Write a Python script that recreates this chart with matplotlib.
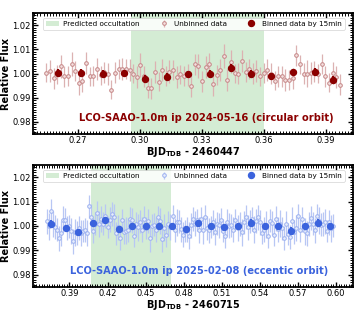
import matplotlib
matplotlib.use("Agg")
import matplotlib.pyplot as plt
from matplotlib.ticker import MultipleLocator, FormatStrFormatter

# ---------------- Top panel data (2024-05-16) ----------------
top_time = [0.2548, 0.2566, 0.2583, 0.2601, 0.2618, 0.2636, 0.2653, 0.2671, 0.2688, 0.2706,
            0.2723, 0.2741, 0.2758, 0.2776, 0.2793, 0.2811, 0.2828, 0.2846, 0.2863, 0.2881,
            0.2898, 0.2916, 0.2933, 0.2951, 0.2968, 0.2986, 0.3003, 0.3021, 0.3038, 0.3056,
            0.3073, 0.3091, 0.3108, 0.3126, 0.3143, 0.3161, 0.3178, 0.3196, 0.3213, 0.3231,
            0.3248, 0.3266, 0.3283, 0.3301, 0.3318, 0.3336, 0.3353, 0.3371, 0.3388, 0.3406,
            0.3423, 0.3441, 0.3458, 0.3476, 0.3493, 0.3511, 0.3528, 0.3546, 0.3563, 0.3581,
            0.3598, 0.3616, 0.3633, 0.3651, 0.3668, 0.3686, 0.3703, 0.3721, 0.3738, 0.3756,
            0.3773, 0.3791, 0.3808, 0.3826, 0.3843, 0.3861, 0.3878, 0.3896, 0.3913, 0.3931,
            0.3948, 0.3966]
top_flux = [1.0004, 1.0010, 0.9980, 0.9997, 1.0029, 0.9989, 0.9989, 1.0038, 1.0011, 0.9959,
            0.9970, 1.0045, 0.9988, 0.9990, 1.0020, 0.9992, 1.0005, 0.9997, 0.9933, 1.0004,
            1.0019, 1.0020, 1.0018, 1.0015, 0.9999, 0.9985, 1.0035, 0.9988, 0.9939, 0.9939,
            1.0007, 0.9966, 1.0014, 0.9990, 1.0007, 1.0014, 0.9986,
            0.9997, 0.9990, 0.9995, 0.9950, 1.0038, 1.0030, 0.9967, 1.0027, 1.0038, 0.9956,
            0.9993, 1.0015, 1.0071, 0.9973, 1.0049, 1.0001, 1.0000, 1.0052, 1.0007, 1.0018,
            1.0001, 1.0011, 0.9988, 1.0001, 1.0016, 1.0000, 0.9970, 0.9988, 0.9988, 0.9973,
            0.9973, 0.9980, 1.0075, 1.0038, 1.0000, 1.0000, 1.0001, 1.0008, 0.9999, 1.0039,
            0.9989, 0.9962, 1.0001, 0.9986, 0.9954]
top_err = [0.0040, 0.0045, 0.0042, 0.0040, 0.0048, 0.0044, 0.0040, 0.0050, 0.0042, 0.0046,
           0.0045, 0.0045, 0.0038, 0.0042, 0.0046, 0.0040, 0.0044, 0.0045, 0.0040, 0.0042,
           0.0040, 0.0046, 0.0042, 0.0044, 0.0040, 0.0045, 0.0048, 0.0042, 0.0040, 0.0044,
           0.0046, 0.0040, 0.0045, 0.0042, 0.0048, 0.0040, 0.0044,
           0.0040, 0.0042, 0.0045, 0.0046, 0.0044, 0.0050, 0.0042, 0.0045, 0.0048, 0.0050,
           0.0042, 0.0046, 0.0050, 0.0044, 0.0048, 0.0040, 0.0045, 0.0046, 0.0042, 0.0040,
           0.0044, 0.0046, 0.0040, 0.0042, 0.0045, 0.0044, 0.0040, 0.0042, 0.0045, 0.0046,
           0.0040, 0.0044, 0.0042, 0.0040, 0.0042, 0.0055, 0.0046, 0.0044, 0.0040, 0.0042,
           0.0044, 0.0040, 0.0046, 0.0045, 0.0042]
top_bin_time = [0.2603, 0.2716, 0.2821, 0.2924, 0.3027, 0.3129, 0.3234,
                0.3338, 0.3442, 0.3539, 0.3632, 0.3741, 0.3846, 0.3931]
top_bin_flux = [1.0003, 1.0002, 1.0000, 1.0002, 0.9978, 0.9987, 0.9996,
                1.0000, 1.0024, 0.9999, 0.9989, 1.0006, 1.0006, 0.9973]
top_bin_err = [0.0015, 0.0015, 0.0014, 0.0014, 0.0015, 0.0014, 0.0015,
               0.0015, 0.0016, 0.0015, 0.0015, 0.0014, 0.0015, 0.0015]
top_occ = (0.2956, 0.3600)
top_xlim = (0.2484, 0.4030)
top_offset = "2460447"
top_label = "LCO-SAAO-1.0m ip 2024-05-16 (circular orbit)"

# ---------------- Bottom panel data (2025-02-08) ----------------
bot_time = [0.3720, 0.3736, 0.3752, 0.3768, 0.3784, 0.3800, 0.3816, 0.3832, 0.3848, 0.3864,
            0.3880, 0.3896, 0.3912, 0.3928, 0.3944, 0.3960, 0.3976, 0.3992, 0.4008, 0.4024,
            0.4040, 0.4056, 0.4072, 0.4088, 0.4104, 0.4120, 0.4136, 0.4152, 0.4168, 0.4184,
            0.4200, 0.4216, 0.4232, 0.4248, 0.4264, 0.4280, 0.4296, 0.4312, 0.4328, 0.4344,
            0.4360, 0.4376, 0.4392, 0.4408, 0.4424, 0.4440, 0.4456, 0.4472, 0.4488, 0.4504,
            0.4520, 0.4536, 0.4552, 0.4568, 0.4584, 0.4600, 0.4616, 0.4632, 0.4648, 0.4664,
            0.4680, 0.4696, 0.4712, 0.4728, 0.4744, 0.4760, 0.4776, 0.4792, 0.4808, 0.4824,
            0.4840, 0.4856, 0.4872, 0.4888, 0.4904, 0.4920, 0.4936, 0.4952, 0.4968, 0.4984,
            0.5000, 0.5016, 0.5032, 0.5048, 0.5064, 0.5080, 0.5096, 0.5112, 0.5128, 0.5144,
            0.5160, 0.5176, 0.5192, 0.5208, 0.5224, 0.5240, 0.5256, 0.5272, 0.5288, 0.5304,
            0.5320, 0.5336, 0.5352, 0.5368, 0.5384, 0.5400, 0.5416, 0.5432, 0.5448, 0.5464,
            0.5480, 0.5496, 0.5512, 0.5528, 0.5544, 0.5560, 0.5576, 0.5592, 0.5608, 0.5624,
            0.5640, 0.5656, 0.5672, 0.5688, 0.5704, 0.5720, 0.5736, 0.5752, 0.5768, 0.5784,
            0.5800, 0.5816, 0.5832, 0.5848, 0.5864, 0.5880, 0.5896, 0.5912, 0.5928, 0.5944,
            0.5960, 0.5976]
bot_flux = [1.0019, 0.9998, 1.0061, 1.0008, 0.9995, 0.9985,
            0.9950, 0.9970, 1.0025, 1.0026, 0.9992, 0.9998, 0.9979,
            0.9937, 0.9975, 0.9971, 0.9993, 0.9971, 0.9980, 0.9984,
            0.9971, 1.0080, 1.0037, 0.9981, 1.0010, 1.0053, 1.0008,
            1.0029, 1.0010, 1.0040, 0.9995, 1.0026, 1.0050,
            1.0035, 0.9970, 0.9994, 0.9952, 1.0024, 0.9977, 0.9980,
            0.9983, 1.0027, 1.0023, 0.9960, 1.0008, 0.9995,
            1.0018, 0.9985, 1.0030, 0.9992, 1.0020, 0.9949, 0.9999,
            1.0005, 0.9985, 1.0035, 1.0020, 0.9945, 0.9993,
            0.9962, 1.0010, 0.9996, 1.0040, 0.9984, 1.0015,
            1.0018, 0.9986, 0.9965, 0.9980, 0.9985, 0.9960, 1.0003,
            1.0028, 1.0010, 1.0025, 0.9984, 1.0029, 0.9983,
            1.0038, 0.9991, 0.9982, 0.9995, 1.0015, 0.9976, 1.0010,
            1.0003, 1.0025, 0.9981, 0.9960, 1.0016, 1.0001,
            1.0003, 0.9985, 1.0025, 0.9992, 1.0007, 0.9975, 1.0015,
            1.0036, 0.9995, 1.0019, 1.0029, 0.9984, 1.0021,
            1.0035, 1.0015, 0.9971, 0.9985, 1.0005, 0.9960, 1.0022,
            1.0012, 0.9965, 1.0030, 0.9986, 1.0009, 0.9990,
            0.9950, 1.0010, 0.9967, 0.9955, 1.0022, 0.9975, 0.9992,
            1.0040, 0.9982, 1.0027, 0.9979, 0.9970, 1.0009,
            1.0032, 1.0010, 0.9982, 1.0040, 1.0022, 1.0005, 1.0008,
            1.0018, 0.9980, 1.0015, 0.9991, 1.0002]
bot_err = [0.0050, 0.0055, 0.0048, 0.0052, 0.0050, 0.0046, 0.0052, 0.0050, 0.0055, 0.0048,
           0.0050, 0.0046, 0.0052, 0.0050, 0.0055, 0.0048, 0.0050, 0.0052, 0.0046, 0.0050,
           0.0055, 0.0048, 0.0052, 0.0050, 0.0046, 0.0050, 0.0055, 0.0052, 0.0048, 0.0050,
           0.0046, 0.0052, 0.0050, 0.0055, 0.0048, 0.0050, 0.0052, 0.0046, 0.0050, 0.0055,
           0.0048, 0.0050, 0.0052, 0.0046, 0.0050, 0.0055, 0.0048, 0.0052, 0.0050, 0.0046,
           0.0050, 0.0055, 0.0052, 0.0048, 0.0050, 0.0046, 0.0052, 0.0050, 0.0055, 0.0048,
           0.0050, 0.0052, 0.0046, 0.0050, 0.0055, 0.0048, 0.0052, 0.0050, 0.0046, 0.0050,
           0.0055, 0.0052, 0.0048, 0.0050, 0.0046, 0.0052, 0.0050, 0.0055, 0.0048, 0.0050,
           0.0052, 0.0046, 0.0050, 0.0055, 0.0048, 0.0052, 0.0050, 0.0046, 0.0050, 0.0055,
           0.0052, 0.0048, 0.0050, 0.0046, 0.0052, 0.0050, 0.0055, 0.0048, 0.0050, 0.0052,
           0.0046, 0.0050, 0.0055, 0.0048, 0.0052, 0.0050, 0.0046, 0.0050, 0.0055, 0.0052,
           0.0048, 0.0050, 0.0046, 0.0052, 0.0050, 0.0055, 0.0048, 0.0050, 0.0052, 0.0046,
           0.0050, 0.0055, 0.0048, 0.0052, 0.0050, 0.0046, 0.0050, 0.0055, 0.0052, 0.0048,
           0.0050, 0.0046, 0.0052, 0.0050, 0.0055, 0.0048, 0.0050, 0.0052, 0.0046, 0.0050,
           0.0055, 0.0048]
bot_bin_time = [0.3758, 0.3871, 0.3970, 0.4084, 0.4184, 0.4293, 0.4394, 0.4502, 0.4608, 0.4711, 0.4820,
                0.4916, 0.5016, 0.5117, 0.5226, 0.5334, 0.5437, 0.5541, 0.5647, 0.5753, 0.5856, 0.5949]
bot_bin_flux = [1.0010, 0.9993, 0.9975, 1.0011, 1.0025, 0.9988, 1.0000, 0.9999, 0.9999, 0.9999, 0.9986,
                1.0011, 1.0001, 0.9996, 1.0001, 1.0014, 0.9999, 0.9999, 0.9981, 1.0000, 1.0014, 1.0000]
bot_bin_err = [0.0013, 0.0013, 0.0013, 0.0013, 0.0013, 0.0013, 0.0013, 0.0013, 0.0013, 0.0013, 0.0013,
               0.0013, 0.0013, 0.0013, 0.0013, 0.0013, 0.0013, 0.0013, 0.0013, 0.0013, 0.0013, 0.0013]
bot_occ = (0.4068, 0.4700)
bot_xlim = (0.3613, 0.6134)
bot_offset = "2460715"
bot_label = "LCO-SAAO-1.0m ip 2025-02-08 (eccentic orbit)"

yticks = [0.98, 0.99, 1.00, 1.01, 1.02]

fig = plt.figure(figsize=(3.6, 3.12), dpi=100)
ax1 = fig.add_axes([0.0917, 0.5705, 0.8889, 0.3878])
ax2 = fig.add_axes([0.0917, 0.0801, 0.8889, 0.3911])


def draw(ax, t, f, e, tb, fb, eb, occ, xlim, offset, label, unb_face, unb_edge, unb_ecol,
         bin_col, txt_col, xmaj, xmin, txt_x):
    ax.axvspan(occ[0], occ[1], color="#2ca02c", alpha=0.2, lw=0,
               label="Predicted occultation", zorder=0)
    ax.errorbar(t, f, yerr=e, fmt="o", ms=2.6, mfc=unb_face, mec=unb_edge, mew=0.7,
                ecolor=unb_ecol, elinewidth=0.9, capsize=0, label="Unbinned data", zorder=2)
    ax.errorbar(tb, fb, yerr=eb, fmt="o", ms=4.3, color=bin_col, elinewidth=1.6,
                capsize=0, label="Binned data by 15min", zorder=3)
    ax.set_xlim(*xlim)
    ax.set_ylim(0.975, 1.025)
    ax.set_yticks(yticks)
    ax.yaxis.set_minor_locator(MultipleLocator(0.001))
    ax.xaxis.set_major_locator(MultipleLocator(xmaj))
    ax.xaxis.set_minor_locator(MultipleLocator(xmin))
    ax.xaxis.set_major_formatter(FormatStrFormatter("%.2f"))
    ax.yaxis.set_major_formatter(FormatStrFormatter("%.2f"))
    ax.tick_params(which="both", direction="in", top=True, right=True)
    ax.tick_params(which="major", length=3.5, width=1.0)
    ax.tick_params(which="minor", length=2.0, width=0.7)
    ax.tick_params(axis="y", labelsize=6.0, pad=1.5)
    ax.tick_params(axis="x", labelsize=6.0, pad=1.5)
    for s in ax.spines.values():
        s.set_linewidth(1.3)
    ax.set_ylabel("Relative Flux", fontsize=7.0, fontweight="bold", labelpad=1)
    ax.set_xlabel(r"BJD$_{\mathbf{TDB}}$ - " + offset, fontsize=7.0, fontweight="bold", labelpad=0)
    ax.text(txt_x, 0.13, label, transform=ax.transAxes, ha="center", va="center",
            fontsize=7.1, fontweight="bold", color=txt_col)
    leg = ax.legend(loc="upper left", bbox_to_anchor=(0.02, 0.985, 0.965, 0), mode="expand",
                    ncol=3, fontsize=5.2, frameon=True, borderpad=0.35, handlelength=1.8,
                    handletextpad=0.6, columnspacing=1.0, fancybox=True, framealpha=0.85)
    leg.get_frame().set_linewidth(0.5)


draw(ax1, top_time, top_flux, top_err, top_bin_time, top_bin_flux, top_bin_err, top_occ,
     top_xlim, top_offset, top_label, "#f4e0e0", "#c48585", "#dcb2b2", "#8b0000", "#8b0000",
     0.03, 0.0015, 0.54)
draw(ax2, bot_time, bot_flux, bot_err, bot_bin_time, bot_bin_flux, bot_bin_err, bot_occ,
     bot_xlim, bot_offset, bot_label, "#e8eefc", "#9bb0f0", "#b8c7f4", "#3b63dd", "#3b63dd",
     0.03, 0.002, 0.52)

fig.savefig("out.png", dpi=100)
